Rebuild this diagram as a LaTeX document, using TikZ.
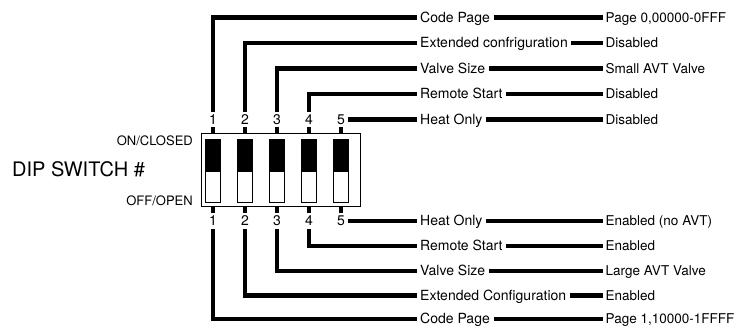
\documentclass[tikz,border=0pt]{standalone}
\usepackage{fontspec}
\setmainfont{TeX Gyre Heros}
\usetikzlibrary{positioning}

\begin{document}
\begin{tikzpicture}[x=1pt, y=-1pt,
		wire/.style={line width=4.5pt},
		num/.style={inner sep=2.5pt, text height=10pt, text depth=0pt, font=\fontsize{14}{16}\selectfont},
		lbl/.style={anchor=west, inner xsep=3.5pt, inner ysep=2.5pt, text height=10pt, text depth=0pt, font=\fontsize{14}{16}\selectfont},
		val/.style={lbl, inner xsep=2.5pt, font=\fontsize{13.5}{16}\selectfont},
		side/.style={anchor=east, inner sep=0pt, text height=9.5pt, text depth=0pt, font=\fontsize{13}{15}\selectfont}]
		\useasboundingbox (0,0) rectangle (739,328);
		% switch body
		\node[draw, line width=0.8pt, minimum width=159pt, minimum height=73pt, inner sep=0pt] (box) at (280.5,169.5) {};
		\foreach \i in {1,...,5} {
			\pgfmathsetmacro{\xx}{213+32*(\i-1)}
			\fill (\xx-7.5,139) rectangle (\xx+7.5,172);
			\draw[line width=0.8pt] (\xx-7.5,139) rectangle (\xx+7.5,202);
			\node[num] (on\i) at (\xx,119.5) {\i};
			\node[num] (off\i) at (\xx,221) {\i};
			\draw[wire] (on\i.south) -- (on\i.south |- box.north);
			\draw[wire] (off\i.north) -- (off\i.north |- box.south);
		}
		\node[anchor=west, inner sep=0pt, text height=14pt, text depth=0pt, font=\fontsize{20}{22}\selectfont] (title) at (12,170) {DIP SWITCH \#};
		\node[side] (onside) at (193,141) {ON/CLOSED};
		\node[side] (offside) at (193,201) {OFF/OPEN};
		% ON settings
		\node[lbl] (ontxt1) at (416.5,17.5) {Code Page};
		\node[lbl] (ontxt2) at (416.5,43) {Extended confriguration};
		\node[lbl] (ontxt3) at (416.5,68.5) {Valve Size};
		\node[lbl] (ontxt4) at (416.5,94) {Remote Start};
		\node[lbl] (ontxt5) at (416.5,119.5) {Heat Only};
		\node[val] (onval1) at (603,17.5) {Page 0,00000-0FFF};
		\node[val] (onval2) at (603,43) {Disabled};
		\node[val] (onval3) at (603,68.5) {Small AVT Valve};
		\node[val] (onval4) at (603,94) {Disabled};
		\node[val] (onval5) at (603,119.5) {Disabled};
		% OFF settings
		\node[lbl] (offtxt1) at (416.5,319) {Code Page};
		\node[lbl] (offtxt2) at (416.5,295.5) {Extended Configuration};
		\node[lbl] (offtxt3) at (416.5,271) {Valve Size};
		\node[lbl] (offtxt4) at (416.5,246) {Remote Start};
		\node[lbl] (offtxt5) at (416.5,221) {Heat Only};
		\node[val] (offval1) at (603,319) {Page 1,10000-1FFFF};
		\node[val] (offval2) at (603,295.5) {Enabled};
		\node[val] (offval3) at (603,271) {Large AVT Valve};
		\node[val] (offval4) at (603,246) {Enabled};
		\node[val] (offval5) at (603,221) {Enabled (no AVT)};
		\foreach \i in {1,...,4} {
			\draw[wire] (on\i.north) |- (ontxt\i.west);
			\draw[wire] (off\i.south) |- (offtxt\i.west);
		}
		\draw[wire] (on5.east) -- (ontxt5.west);
		\draw[wire] (off5.east) -- (offtxt5.west);
		\foreach \i in {1,...,5} {
			\draw[wire] (ontxt\i.east) -- (onval\i.west);
			\draw[wire] (offtxt\i.east) -- (offval\i.west);
		}
	\end{tikzpicture}
\end{document}
